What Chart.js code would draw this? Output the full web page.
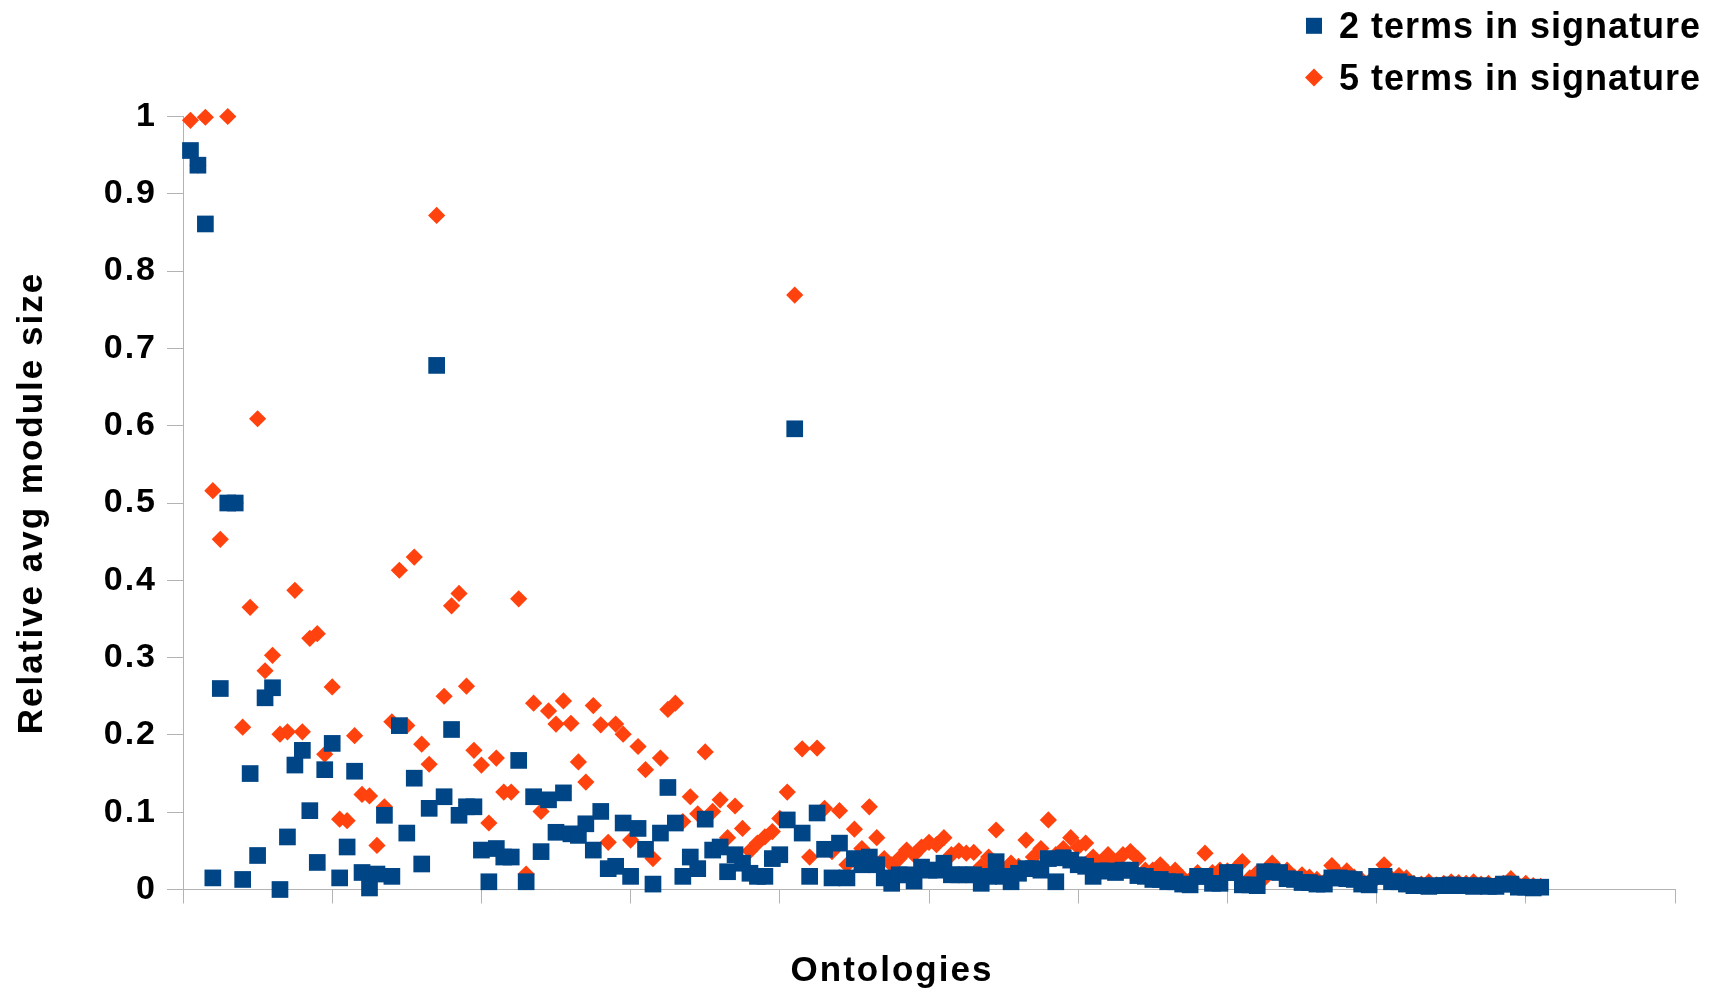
<!DOCTYPE html>
<html><head><meta charset="utf-8">
<script src="https://cdn.jsdelivr.net/npm/chart.js@4.4.1/dist/chart.umd.min.js"></script>
<style>html,body{margin:0;padding:0;background:#fff}</style>
</head><body>
<canvas id="c" width="1724" height="990" style="display:block"></canvas>
<script>
const seriesNames = ['2 terms in signature', '5 terms in signature'];
const xTitle = 'Ontologies';
const yTitle = 'Relative avg module size';
const yTickLabels = ['0','0.1','0.2','0.3','0.4','0.5','0.6','0.7','0.8','0.9','1'];

// values per ontology, ontology number = position + 1
const twoTerms = [
0.956,0.937,0.861,0.015,0.260,0.500,0.500,0.013,0.150,0.044,
0.248,0.261,0.000,0.068,0.161,0.180,0.102,0.035,0.155,0.189,
0.015,0.055,0.153,0.022,0.002,0.020,0.096,0.017,0.212,0.073,
0.144,0.033,0.105,0.678,0.120,0.207,0.096,0.107,0.107,0.051,
0.010,0.053,0.042,0.042,0.167,0.010,0.120,0.049,0.116,0.074,
0.125,0.072,0.070,0.085,0.051,0.101,0.027,0.030,0.086,0.017,
0.079,0.052,0.007,0.073,0.132,0.086,0.017,0.042,0.027,0.091,
0.051,0.055,0.023,0.045,0.034,0.021,0.017,0.017,0.040,0.045,
0.090,0.596,0.073,0.017,0.099,0.052,0.015,0.060,0.015,0.040,
0.032,0.042,0.032,0.015,0.008,0.019,0.019,0.011,0.029,0.025,
0.025,0.034,0.019,0.019,0.019,0.019,0.008,0.017,0.036,0.017,
0.010,0.021,0.027,0.027,0.025,0.040,0.010,0.041,0.038,0.032,
0.030,0.017,0.024,0.024,0.022,0.025,0.025,0.018,0.017,0.013,
0.013,0.010,0.010,0.007,0.006,0.017,0.017,0.008,0.008,0.022,
0.022,0.006,0.006,0.005,0.023,0.023,0.022,0.014,0.013,0.009,
0.009,0.007,0.007,0.015,0.015,0.014,0.013,0.007,0.006,0.017,
0.017,0.010,0.010,0.007,0.005,0.005,0.004,0.005,0.005,0.006,
0.005,0.005,0.004,0.005,0.004,0.004,0.007,0.007,0.003,0.003,
0.002,0.003
];
const fiveTerms = [
0.995,0.937,0.999,0.516,0.453,1.000,0.500,0.210,0.365,0.609,
0.283,0.303,0.201,0.204,0.387,0.204,0.325,0.331,0.175,0.262,
0.091,0.089,0.199,0.123,0.121,0.057,0.107,0.217,0.413,0.212,
0.430,0.188,0.162,0.872,0.250,0.367,0.383,0.263,0.180,0.161,
0.086,0.170,0.126,0.126,0.376,0.020,0.241,0.101,0.231,0.214,
0.244,0.215,0.165,0.139,0.238,0.213,0.061,0.214,0.201,0.064,
0.185,0.155,0.040,0.170,0.233,0.241,0.088,0.120,0.098,0.178,
0.101,0.116,0.067,0.108,0.079,0.050,0.060,0.068,0.075,0.092,
0.126,0.769,0.182,0.042,0.183,0.105,0.049,0.102,0.032,0.078,
0.053,0.107,0.067,0.040,0.032,0.040,0.051,0.045,0.055,0.061,
0.058,0.067,0.045,0.050,0.047,0.048,0.030,0.042,0.077,0.025,
0.034,0.030,0.064,0.042,0.053,0.090,0.045,0.053,0.067,0.055,
0.060,0.042,0.035,0.045,0.035,0.045,0.049,0.040,0.025,0.025,
0.032,0.022,0.025,0.015,0.012,0.022,0.047,0.022,0.025,0.024,
0.026,0.036,0.015,0.022,0.015,0.034,0.022,0.025,0.016,0.019,
0.016,0.013,0.010,0.031,0.020,0.024,0.016,0.012,0.010,0.015,
0.032,0.014,0.018,0.015,0.008,0.007,0.010,0.006,0.008,0.010,
0.009,0.008,0.010,0.007,0.008,0.006,0.008,0.014,0.006,0.008,
0.005,0.004
];

const FONT = '"Liberation Sans", Arial, sans-serif';
const GRAY = '#b3b3b3';
const toPoints = arr => arr.map((v, i) => ({x: i + 1, y: v}));

const spacingPlugin = {
  id: 'spacing',
  beforeUpdate(c) { c.ctx.letterSpacing = '2px'; },
  beforeDraw(c) { c.ctx.letterSpacing = '2px'; }
};

const extrasPlugin = {
  id: 'extras',
  afterDraw(chart) {
    const ctx = chart.ctx;
    ctx.save();
    // legend
    ctx.letterSpacing = '1px';
    ctx.font = 'bold 36px ' + FONT;
    ctx.textBaseline = 'alphabetic';
    ctx.textAlign = 'left';
    chart.data.datasets.forEach((ds, i) => {
      const cy = 25.8 + i * 51.6;
      ctx.fillStyle = ds.backgroundColor;
      if (ds.pointStyle === 'rect') {
        ctx.fillRect(1306, cy - 8, 16, 16);
      } else {
        ctx.beginPath();
        ctx.moveTo(1314, cy - 9); ctx.lineTo(1323, cy); ctx.lineTo(1314, cy + 9); ctx.lineTo(1305, cy);
        ctx.closePath(); ctx.fill();
      }
      ctx.fillStyle = '#000';
      ctx.fillText(ds.label, 1339, cy + 12.3);
    });
    // x axis title
    ctx.letterSpacing = '2px';
    ctx.font = 'bold 35px ' + FONT;
    ctx.textAlign = 'center';
    ctx.fillText(xTitle, 892, 981);
    ctx.restore();
  }
};

new Chart(document.getElementById('c'), {
  type: 'scatter',
  data: {
    datasets: [
      { label: seriesNames[0], data: toPoints(twoTerms), pointStyle: 'rect',
        backgroundColor: '#004586', borderColor: '#004586', borderWidth: 0,
        pointRadius: 11.8, pointHoverRadius: 11.8, clip: false },
      { label: seriesNames[1], data: toPoints(fiveTerms), pointStyle: 'rectRot',
        backgroundColor: '#ff420e', borderColor: '#ff420e', borderWidth: 0,
        pointRadius: 8.6, pointHoverRadius: 8.6, clip: false }
    ]
  },
  options: {
    responsive: false,
    animation: false,
    devicePixelRatio: 1,
    layout: { padding: { left: 7, top: 116.5, right: 49, bottom: 0 } },
    plugins: { legend: { display: false }, tooltip: { enabled: false } },
    scales: {
      x: {
        type: 'linear', min: 0, max: 200,
        ticks: { stepSize: 20, display: false },
        grid: { drawOnChartArea: false, drawTicks: true, tickLength: 14, tickColor: GRAY, color: GRAY },
        border: { color: GRAY, width: 1 },
        title: { display: false },
        afterFit(s) { s.height = 100.5; }
      },
      y: {
        type: 'linear', min: 0, max: 1,
        ticks: {
          stepSize: 0.1, padding: 10, color: '#000',
          font: { family: FONT, size: 34, weight: 'bold' },
          callback: v => yTickLabels[Math.round(v * 10)]
        },
        grid: { drawOnChartArea: false, drawTicks: true, tickLength: 16, tickColor: GRAY, color: GRAY },
        border: { color: GRAY, width: 1 },
        title: { display: true, text: yTitle, color: '#000', padding: { top: 4, bottom: 4 },
                 font: { family: FONT, size: 35, weight: 'bold' } },
        afterFit(s) { s.width = 176; }
      }
    }
  },
  plugins: [spacingPlugin, extrasPlugin]
});
</script>
</body></html>
